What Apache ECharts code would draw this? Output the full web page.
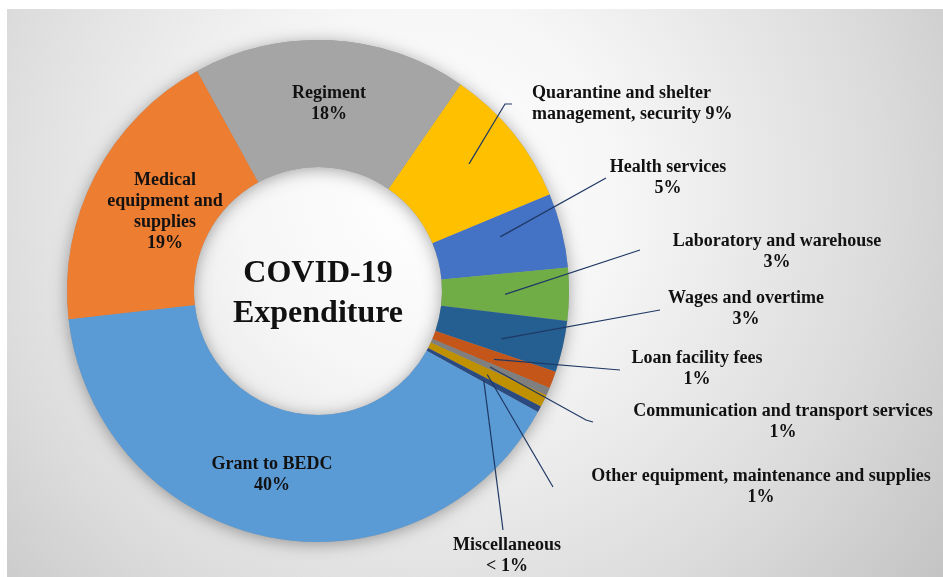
<!DOCTYPE html>
<html><head><meta charset="utf-8">
<script src="https://cdn.jsdelivr.net/npm/echarts@6/dist/echarts.min.js"></script>
<style>html,body{margin:0;padding:0;background:#fff}#c{width:943px;height:577px}</style>
</head><body><div id="c"></div>
<script>
// ---- data (clockwise from the Quarantine slice) ----
const categories = ['Quarantine and shelter management, security','Health services','Laboratory and warehouse','Wages and overtime','Loan facility fees','Communication and transport services','Other equipment, maintenance and supplies','Miscellaneous','Grant to BEDC','Medical equipment and supplies','Regiment'];
const values = [9.1, 4.8, 3.4, 3.3, 1.1, 0.5, 0.8, 0.4, 40.2, 18.8, 17.6];
const pctLabels = ['9%','5%','3%','3%','1%','1%','1%','< 1%','40%','19%','18%'];
const labelNames = ['Quarantine and shelter\nmanagement, security','Health services','Laboratory and warehouse','Wages and overtime','Loan facility fees','Communication and transport services','Other equipment, maintenance and supplies','Miscellaneous','Grant to BEDC','Medical\nequipment and\nsupplies','Regiment'];
const colors = ['#FFC000','#4472C4','#70AD47','#255E91','#C5561A','#7F7F7F','#BF9000','#2A4A80','#5B9BD5','#ED7D31','#A5A5A5'];

// ---- label layout (positions only) ----
const labelSpec = [
  {x:532, y:104, align:'left', line:[[505,104],[512,104]]},
  {x:668, y:177.5, align:'center', line:[[606,178],[606,178]]},
  {x:777, y:251.5, align:'center', line:[[640,250],[640,250]]},
  {x:746, y:309, align:'center', line:[[660,310],[660,310]]},
  {x:697, y:368.5, align:'center', line:[[620,370],[620,370]]},
  {x:783, y:421.5, align:'center', line:[[586,420],[593,422]]},
  {x:761, y:486.5, align:'center', line:[[553,487],[553,487]]},
  {x:507, y:555.5, align:'center', line:[[503,530],[503,530]]},
  {x:272, y:475, align:'center'},
  {x:165, y:211.5, align:'center'},
  {x:329, y:103.5, align:'center'}
];

const FONT = '"Liberation Serif", "Times New Roman", serif';
const CENTER = [318, 291];
const RADIUS = [124, 251];
const START = 55.4;
const chart = echarts.init(document.getElementById('c'), null, {renderer:'canvas'});

const sliceData = categories.map((name, i) => ({name: name, value: values[i], itemStyle: {color: colors[i]}}));
const shadowData = categories.map((name, i) => ({name: name, value: values[i]}));
const labelData = categories.map((name, i) => {
  const inside = !labelSpec[i].line;
  return {
    name: name,
    value: values[i],
    label: {position: inside ? 'inside' : 'outside'},
    labelLine: {show: !inside}
  };
});

chart.setOption({
  animation: false,
  graphic: [
    {type:'rect', z:-10, silent:true, shape:{x:7, y:9, width:936, height:568},
     style:{fill:{type:'radial', x:430, y:190, r:640, global:true,
       colorStops:[{offset:0, color:'#ffffff'},{offset:0.3, color:'#f6f6f6'},{offset:0.7, color:'#dcdcdc'},{offset:1, color:'#c4c4c4'}]}}},
    {type:'text', z:100, silent:true, x:318, y:254,
     style:{text:'COVID-19\nExpenditure', align:'center', verticalAlign:'top', fontSize:32, fontWeight:'bold', fontFamily:FONT, lineHeight:40, fill:'#111111'}}
  ],
  series: [
    {
      type:'pie', silent:true, z:1,
      center:CENTER, radius:RADIUS, startAngle:START, clockwise:true,
      label:{show:false}, labelLine:{show:false},
      itemStyle:{color:'#9a9a9a', shadowBlur:16, shadowColor:'rgba(0,0,0,0.35)', shadowOffsetY:2},
      data: shadowData
    },
    {
      type:'pie', silent:true, z:2,
      center:CENTER, radius:RADIUS, startAngle:START, clockwise:true,
      itemStyle:{borderWidth:0},
      label:{show:false}, labelLine:{show:false},
      data: sliceData
    },
    {
      type:'pie', silent:true, z:3,
      center:CENTER, radius:RADIUS, startAngle:START, clockwise:true,
      avoidLabelOverlap:false,
      itemStyle:{color:'rgba(0,0,0,0)', borderWidth:0},
      label:{
        show:true, color:'#111111', fontFamily:FONT, fontWeight:'bold', fontSize:18, lineHeight:21,
        formatter: p => labelNames[p.dataIndex] + (p.dataIndex === 0 ? ' ' : '\n') + pctLabels[p.dataIndex]
      },
      labelLine:{lineStyle:{color:'#1F3864', width:1.2}},
      labelLayout: function (params) {
        const s = labelSpec[params.dataIndex];
        const r = params.rect;
        const out = {x:s.x, y:s.y, align:s.align, verticalAlign:'middle'};
        if (s.line) {
          out.labelLinePoints = [[r.x + r.width/2, r.y + r.height/2]].concat(s.line);
        }
        return out;
      },
      data: labelData
    }
  ]
});
</script>
</body></html>
